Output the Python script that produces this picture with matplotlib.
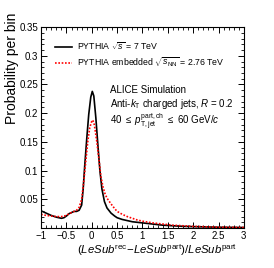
import matplotlib
matplotlib.use("Agg")
import matplotlib.pyplot as plt
from matplotlib.ticker import MultipleLocator, FixedLocator

plt.rcParams['font.family'] = ['Liberation Sans', 'DejaVu Sans']
plt.rcParams['mathtext.fontset'] = 'custom'
plt.rcParams['mathtext.rm'] = 'Liberation Sans'
plt.rcParams['mathtext.it'] = 'Liberation Sans:italic'
plt.rcParams['mathtext.bf'] = 'Liberation Sans:bold'

# PYTHIA sqrt(s) = 7 TeV
x_pp = [-1.0, -0.9, -0.8, -0.7, -0.6, -0.55, -0.5, -0.45, -0.4, -0.35, -0.3, -0.25,
        -0.2, -0.17, -0.14, -0.1, -0.06, -0.02, 0.01, 0.04, 0.08, 0.12, 0.16, 0.2,
        0.25, 0.3, 0.38, 0.45, 0.5, 0.6, 0.7, 0.8, 0.9, 1.0, 1.2, 1.4, 1.6, 1.8,
        2.0, 2.5, 3.0]
y_pp = [0.030, 0.026, 0.022, 0.019, 0.017, 0.018, 0.021, 0.025, 0.027, 0.029, 0.029, 0.031,
        0.040, 0.068, 0.108, 0.155, 0.198, 0.228, 0.238, 0.230, 0.192, 0.145, 0.100, 0.068,
        0.046, 0.035, 0.026, 0.021, 0.018, 0.015, 0.013, 0.011, 0.010, 0.009, 0.007, 0.005,
        0.004, 0.003, 0.0025, 0.0015, 0.001]

# PYTHIA embedded sqrt(sNN) = 2.76 TeV
x_emb = [-1.0, -0.9, -0.8, -0.7, -0.6, -0.5, -0.45, -0.4, -0.35, -0.3, -0.25, -0.2,
         -0.16, -0.12, -0.08, -0.04, 0.0, 0.02, 0.05, 0.1, 0.14, 0.18, 0.22, 0.26,
         0.3, 0.38, 0.45, 0.5, 0.6, 0.7, 0.8, 0.9, 1.0, 1.2, 1.4, 1.6, 1.8, 2.0,
         2.5, 3.0]
y_emb = [0.024, 0.022, 0.021, 0.020, 0.020, 0.022, 0.025, 0.027, 0.029, 0.031, 0.036, 0.050,
         0.080, 0.115, 0.150, 0.175, 0.186, 0.188, 0.180, 0.150, 0.120, 0.090, 0.072, 0.060,
         0.052, 0.042, 0.034, 0.029, 0.024, 0.020, 0.017, 0.014, 0.012, 0.009, 0.007, 0.005,
         0.004, 0.003, 0.0015, 0.001]

y_ticks = [0.05, 0.1, 0.15, 0.2, 0.25, 0.3, 0.35]
y_ticklabels = ["0.05", "0.1", "0.15", "0.2", "0.25", "0.3", "0.35"]
x_ticks = [-1, -0.5, 0, 0.5, 1, 1.5, 2, 2.5, 3]
x_ticklabels = ["\u22121", "\u22120.5", "0", "0.5", "1", "1.5", "2", "2.5", "3"]

fig = plt.figure(figsize=(2.74, 2.68), dpi=100)
ax = fig.add_axes([0.150, 0.149, 0.740, 0.750])

ax.plot(x_pp, y_pp, color='black', lw=1.2, label=r'PYTHIA $\sqrt{s}$ = 7 TeV')
ax.plot(x_emb, y_emb, color='red', lw=1.2, ls=(0, (1, 1)),
        label=r'PYTHIA embedded $\sqrt{s_{\rm NN}}$ = 2.76 TeV')

ax.set_xlim(-1, 3)
ax.set_ylim(0, 0.35)
ax.xaxis.set_major_locator(FixedLocator(x_ticks))
ax.set_xticklabels(x_ticklabels)
ax.xaxis.set_minor_locator(MultipleLocator(0.1))
ax.yaxis.set_major_locator(FixedLocator(y_ticks))
ax.set_yticklabels(y_ticklabels)
ax.yaxis.set_minor_locator(MultipleLocator(0.01))
ax.tick_params(which='both', direction='in', top=True, right=True, labelsize=7, pad=2)
ax.tick_params(which='major', length=4, width=0.7)
ax.tick_params(which='minor', length=2, width=0.6)
for s in ax.spines.values():
    s.set_linewidth(0.8)

ax.set_xlabel(r'$(\it{LeSub}^{\rm rec}\!-\!\it{LeSub}^{\rm part})/\it{LeSub}^{\rm part}$',
              fontsize=8.2, ha='right')
ax.xaxis.set_label_coords(0.965, -0.072)
fig.text(0.042, 1 - 13 / 268, 'Probability per bin', rotation=90, fontsize=10,
         ha='center', va='top')

ax.legend(loc='upper left', bbox_to_anchor=(0.05, 0.95), frameon=False, fontsize=6.3,
          handlelength=2.0, handletextpad=0.5, labelspacing=0.45, borderaxespad=0)

ax.text(0.34, 0.688, 'ALICE Simulation', transform=ax.transAxes, fontsize=7, va='center')
ax.text(0.34, 0.618, r'Anti-$k_{\rm T}$ charged jets, $R$ = 0.2', transform=ax.transAxes,
        fontsize=7, va='center')
ax.text(0.34, 0.528, r'40 $\leq$ $p_{\rm T,jet}^{\rm part,ch}$ $\leq$ 60 GeV/$c$',
        transform=ax.transAxes, fontsize=7, va='center')

fig.savefig('out.png', dpi=100)
